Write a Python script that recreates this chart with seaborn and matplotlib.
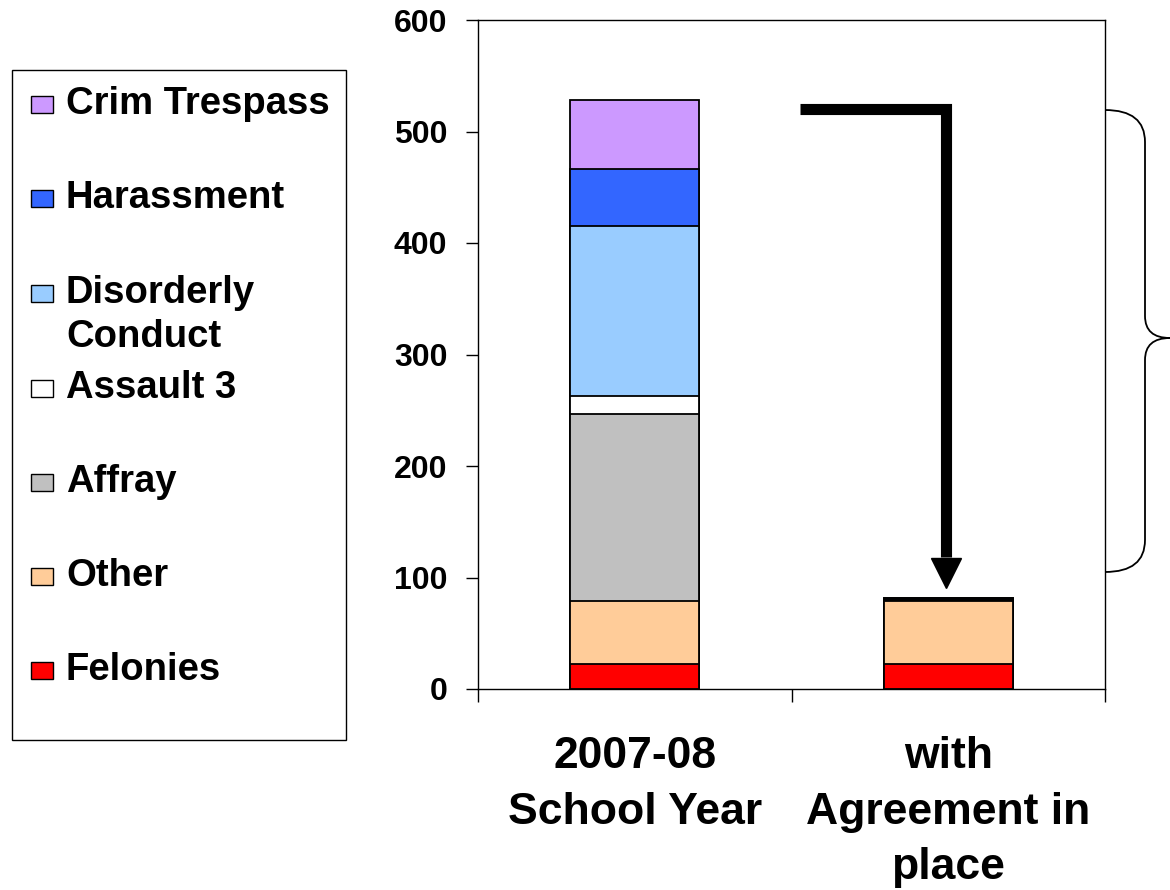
import pandas as pd
import matplotlib
matplotlib.use("Agg")
import matplotlib.pyplot as plt
import matplotlib.transforms as mtransforms
from matplotlib.patches import Rectangle, PathPatch
from matplotlib.path import Path
import seaborn as sns

# data (bottom to top of the stack)
periods = ["2007-08\nSchool Year", "with\nAgreement in\nplace"]
categories = ["Felonies", "Other", "Affray", "Assault 3",
              "Disorderly Conduct", "Harassment", "Crim Trespass"]
felonies = [22, 22]
other = [57, 57]
affray = [168, 0]
assault3 = [16, 1]
disorderly = [152, 1]
harassment = [51, 1]
crim_trespass = [62, 0]
colors = ["#FF0000", "#FFCC99", "#C0C0C0", "#FFFFFF",
          "#99CCFF", "#3366FF", "#CC99FF"]
legend_labels = ["Felonies", "Other", "Affray", "Assault 3",
                 "Disorderly\nConduct", "Harassment", "Crim Trespass"]

series = [felonies, other, affray, assault3, disorderly, harassment, crim_trespass]
df = pd.DataFrame(dict(zip(categories, series)), index=periods)
cum = df.cumsum(axis=1)

sns.set_style("ticks")
plt.rcParams["font.family"] = ["Liberation Sans", "DejaVu Sans"]
plt.rcParams["font.weight"] = "bold"
plt.rcParams["text.color"] = "black"
plt.rcParams["xtick.color"] = "black"
plt.rcParams["ytick.color"] = "black"

W, H = 1170, 890
fig = plt.figure(figsize=(W / 100, H / 100), dpi=100)
ax = fig.add_axes([478 / W, 1 - 689 / H, (1105 - 478) / W, (689 - 20) / H])

# stacked bars: draw cumulative totals, tallest first
for cat, col in zip(categories[::-1], colors[::-1]):
    sns.barplot(x=periods, y=cum[cat].values, color=col, width=0.41,
                edgecolor="black", linewidth=1.3, saturation=1,
                errorbar=None, ax=ax)

ax.set_xlim(-0.5, 1.5)
ax.set_ylim(0, 600)
ax.set_yticks(range(0, 601, 100))
ax.set_xticks([0, 1], periods)
ax.set_xticks([-0.5, 0.5, 1.5], minor=True)
ax.set_xlabel("")
ax.set_ylabel("")
ax.tick_params(axis="x", which="major", length=0, pad=34, labelsize=32)
ax.tick_params(axis="x", which="minor", length=9, width=1, direction="out")
ax.tick_params(axis="y", length=9, width=1, direction="out", pad=13, labelsize=23)
for t in ax.get_xticklabels():
    t.set_linespacing(1.45)
for s in ax.spines.values():
    s.set_color("black")
    s.set_linewidth(1)

# bent arrow
ax.plot([0.527, 0.993, 0.993], [520.6, 520.6, 118], color="black", lw=8,
        solid_capstyle="butt", solid_joinstyle="miter")
ax.plot(0.993, 104, marker="v", markersize=22, color="black")

# pixel coordinates for the annotations outside the axes
px = mtransforms.Affine2D().scale(1 / W, -1 / H).translate(0, 1) + fig.transFigure

# legend box
fig.add_artist(Rectangle((12, 70), 334, 670, transform=px, fill=False,
                         edgecolor="black", lw=1))
rows = [670, 576, 482, 388, 293, 198, 104]
for lab, col, y in zip(legend_labels, colors, rows):
    fig.add_artist(Rectangle((31, y - 8.5), 22, 17, transform=px,
                             facecolor=col, edgecolor="black", lw=1))
    for i, line in enumerate(lab.split("\n")):
        fig.text(66, y + i * 44, line, transform=px, fontsize=27.5,
                 fontweight="bold", va="center", ha="left")

# curly brace on the right
verts = [(1105, 110), (1145, 110), (1145, 142), (1145, 316),
         (1145, 338), (1170, 338), (1145, 338), (1145, 360),
         (1145, 540), (1145, 572), (1105, 572)]
codes = [Path.MOVETO, Path.CURVE3, Path.CURVE3, Path.LINETO,
         Path.CURVE3, Path.CURVE3, Path.CURVE3, Path.CURVE3,
         Path.LINETO, Path.CURVE3, Path.CURVE3]
fig.add_artist(PathPatch(Path(verts, codes), transform=px, fill=False,
                         edgecolor="black", lw=1.3))

fig.savefig("out.png", dpi=100)
